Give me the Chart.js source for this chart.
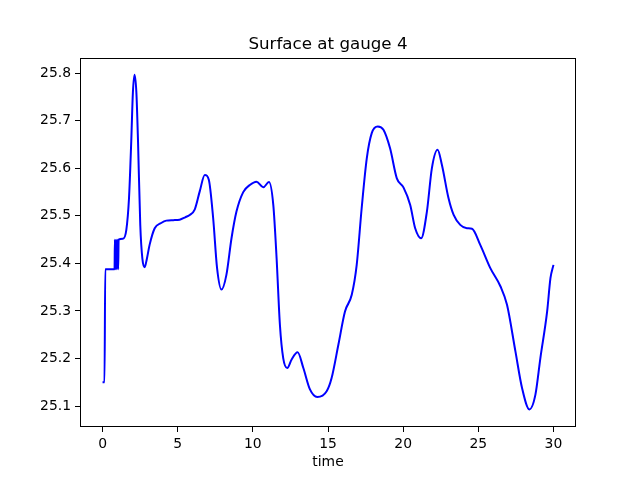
<!DOCTYPE html>
<html lang="en">
<head>
  <meta charset="UTF-8">
  <title>Surface at gauge 4</title>
  <script src="https://cdn.jsdelivr.net/npm/chart.js"></script>
  <style>
    html, body { margin: 0; padding: 0; background: #fff; }
    #wrap { width: 640px; height: 480px; }
  </style>
</head>
<body>
  <div id="wrap"><canvas id="gaugeChart" width="640" height="480"></canvas></div>
  <script>
    // values
    const time = [0, 0.13, 0.18, 0.80, 0.82, 0.87, 0.90, 0.95, 0.98, 1.04, 1.07, 1.36, 1.58, 1.76, 1.91, 2.02, 2.13, 2.25, 2.36, 2.51,
      2.65, 2.8, 2.95, 3.13, 3.47, 3.9, 4.24, 4.7, 5.13, 5.5, 5.8, 6.13, 6.47, 6.8, 7.07, 7.36, 7.62, 7.91, 8.24, 8.58,
      8.91, 9.36, 9.8, 10.24, 10.69, 11.07, 11.36, 11.58, 11.8, 12.02, 12.29, 12.58, 12.98, 13.36, 13.8, 14.29, 14.91, 15.24, 15.69, 16.13,
      16.58, 16.91, 17.24, 17.58, 17.91, 18.31, 18.69, 19.13, 19.58, 20.02, 20.47, 20.8, 21.2, 21.58, 21.91, 22.29, 22.58, 23.02, 23.36, 23.8,
      24.24, 24.58, 25.13, 25.8, 26.47, 26.91, 27.47, 27.91, 28.4, 28.8, 29.13, 29.58, 29.8, 30.0];
    const surface = [25.150, 25.150, 25.388, 25.388, 25.450, 25.388, 25.450, 25.388, 25.450, 25.388, 25.450, 25.452, 25.470, 25.537, 25.657, 25.760, 25.797, 25.760, 25.657, 25.481,
      25.410, 25.392, 25.410, 25.439, 25.474, 25.485, 25.490, 25.491, 25.492, 25.497, 25.502, 25.513, 25.552, 25.586, 25.576, 25.495, 25.390, 25.345, 25.376, 25.453,
      25.509, 25.550, 25.565, 25.572, 25.560, 25.571, 25.523, 25.411, 25.271, 25.201, 25.180, 25.198, 25.213, 25.180, 25.135, 25.119, 25.131, 25.159, 25.229, 25.299,
      25.334, 25.397, 25.516, 25.621, 25.674, 25.688, 25.681, 25.642, 25.579, 25.560, 25.523, 25.474, 25.453, 25.509, 25.600, 25.639, 25.607, 25.537, 25.502, 25.481,
      25.474, 25.473, 25.439, 25.390, 25.352, 25.313, 25.215, 25.138, 25.093, 25.124, 25.201, 25.299, 25.369, 25.397];
    const xTicks = [0, 5, 10, 15, 20, 25, 30];
    const yTicks = [25.1, 25.2, 25.3, 25.4, 25.5, 25.6, 25.7, 25.8];

    const points = time.map((t, i) => ({ x: t, y: surface[i] }));
    const font = { family: "'DejaVu Sans', sans-serif", size: 13.9 };

    // title and axes frame, drawn like matplotlib
    const framePlugin = {
      id: 'frame',
      afterDraw(chart) {
        const { ctx, chartArea: a } = chart;
        ctx.save();
        ctx.strokeStyle = '#000';
        ctx.lineWidth = 1;
        ctx.strokeRect(a.left + 0.5, a.top + 0.5, a.right - a.left - 1, a.bottom - a.top - 1);
        ctx.fillStyle = '#000';
        ctx.font = "16.7px 'DejaVu Sans', sans-serif";
        ctx.textAlign = 'center';
        ctx.textBaseline = 'alphabetic';
        ctx.fillText('Surface at gauge 4', (a.left + a.right) / 2, 49);
        ctx.restore();
      }
    };

    new Chart(document.getElementById('gaugeChart'), {
      type: 'line',
      data: {
        datasets: [{
          data: points,
          borderColor: '#0000ff',
          borderWidth: 2,
          pointRadius: 0,
          fill: false,
          cubicInterpolationMode: 'monotone'
        }]
      },
      options: {
        responsive: false,
        animation: false,
        layout: { padding: { top: 58, right: 64, left: 0, bottom: 0 } },
        plugins: { legend: { display: false }, tooltip: { enabled: false } },
        scales: {
          x: {
            type: 'linear',
            min: -1.5,
            max: 31.5,
            afterBuildTicks: s => { s.ticks = xTicks.map(v => ({ value: v })); },
            afterFit: s => { s.height = 53; },
            grid: { drawOnChartArea: false, color: '#000', tickLength: 5 },
            border: { display: false },
            ticks: { color: '#000', font: font, padding: 4, maxRotation: 0, callback: v => String(v) },
            title: { display: true, text: 'time', color: '#000', font: font, padding: { top: 0, bottom: 9 } }
          },
          y: {
            type: 'linear',
            min: 25.056,
            max: 25.832,
            afterBuildTicks: s => { s.ticks = yTicks.map(v => ({ value: v })); },
            afterFit: s => { s.width = 80; },
            grid: { drawOnChartArea: false, color: '#000', tickLength: 5 },
            border: { display: false },
            ticks: { color: '#000', font: font, padding: 4, callback: v => v.toFixed(1) }
          }
        }
      },
      plugins: [framePlugin]
    });
  </script>
</body>
</html>
